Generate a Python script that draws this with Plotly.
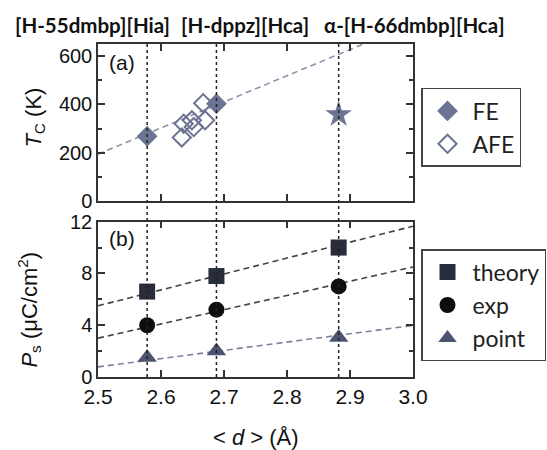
import plotly.graph_objects as go

# ---------- data ----------
d_fe = [2.578, 2.688]
tc_fe = [268, 403]
d_star = [2.882]
tc_star = [358]
d_afe = [2.633, 2.636, 2.649, 2.652, 2.670, 2.667]
tc_afe = [263, 320, 334, 306, 334, 405]
tc_fit_d = [2.5, 3.0]
tc_fit = [194, 735]

d_ps = [2.578, 2.688, 2.882]
ps_theory = [6.6, 7.8, 10.0]
ps_exp = [4.0, 5.2, 7.0]
ps_point = [1.5, 2.0, 3.05]
fit_d = [2.5, 3.0]
theory_fit = [5.5, 11.65]
exp_fit = [3.0, 8.5]
point_fit = [0.78, 3.98]

compound_d = [2.578, 2.688, 2.882]
compound_labels = ["[H-55dmbp][Hia]", "[H-dppz][Hca]", "α-[H-66dmbp][Hca]"]

x_ticks = [2.5, 2.6, 2.7, 2.8, 2.9, 3.0]
x_ticklabels = ["2.5", "2.6", "2.7", "2.8", "2.9", "3.0"]

# ---------- styles ----------
SLATE = "#6b7492"
FRAME = "#333333"
TICKFONT = dict(family="Liberation Sans, Arial", size=20, color="#111")
LEGFONT = dict(family="Lato", size=23, color="#222")

fig = go.Figure()

# top panel (x2, y2)
fig.add_trace(go.Scatter(x=tc_fit_d, y=tc_fit, mode="lines", xaxis="x2", yaxis="y2",
                         line=dict(color="#8c93ab", width=1.6, dash="6px,4px"),
                         showlegend=False, hoverinfo="skip"))
fig.add_trace(go.Scatter(x=d_afe, y=tc_afe, mode="markers", xaxis="x2", yaxis="y2", name="AFE",
                         marker=dict(symbol="diamond-open", size=14, color=SLATE,
                                     line=dict(width=2, color=SLATE)),
                         legend="legend", legendrank=2))
fig.add_trace(go.Scatter(x=d_fe, y=tc_fe, mode="markers", xaxis="x2", yaxis="y2", name="FE",
                         marker=dict(symbol="diamond", size=16, color=SLATE),
                         legend="legend", legendrank=1))
fig.add_trace(go.Scatter(x=d_star, y=tc_star, mode="markers", xaxis="x2", yaxis="y2",
                         marker=dict(symbol="star", size=20, color=SLATE),
                         showlegend=False))

# bottom panel (x, y)
for yy, col in [(theory_fit, "#444444"), (exp_fit, "#444444"), (point_fit, "#7c8299")]:
    fig.add_trace(go.Scatter(x=fit_d, y=yy, mode="lines",
                             line=dict(color=col, width=1.6, dash="6px,4px"),
                             showlegend=False, hoverinfo="skip"))
fig.add_trace(go.Scatter(x=d_ps, y=ps_theory, mode="markers", name="theory",
                         marker=dict(symbol="square", size=16, color="#282c3b"),
                         legend="legend2"))
fig.add_trace(go.Scatter(x=d_ps, y=ps_exp, mode="markers", name="exp",
                         marker=dict(symbol="circle", size=16, color="#0e0e0e"),
                         legend="legend2"))
fig.add_trace(go.Scatter(x=d_ps, y=ps_point, mode="markers", name="point",
                         marker=dict(symbol="triangle-up", size=17, color="#4d5470"),
                         legend="legend2"))

axis_common = dict(showline=True, linecolor=FRAME, linewidth=1.5, mirror="ticks",
                   ticks="inside", tickcolor=FRAME, tickwidth=1.5, ticklen=7,
                   showgrid=False, zeroline=False, tickfont=TICKFONT)

fig.update_layout(
    width=547, height=450,
    margin=dict(l=97.5, r=134, t=44, b=73, autoexpand=False),
    plot_bgcolor="white", paper_bgcolor="white",
    xaxis=dict(range=[2.5, 3.0], tickvals=x_ticks, ticktext=x_ticklabels,
               **{**axis_common, "tickfont": dict(family="Liberation Sans, Arial", size=21, color="#111")}),
    yaxis=dict(domain=[0, 0.4664], range=[0, 12], tickvals=[0, 4, 8, 12],
               minor=dict(tickvals=[2, 6, 10], ticks="inside", ticklen=4, tickcolor=FRAME, tickwidth=1.5),
               **axis_common),
    xaxis2=dict(range=[2.5, 3.0], tickvals=x_ticks, showticklabels=False, anchor="y2",
                matches="x", **axis_common),
    yaxis2=dict(domain=[0.5285, 1.0], range=[0, 650], tickvals=[0, 200, 400, 600], anchor="x2",
                minor=dict(tickvals=[100, 300, 500], ticks="inside", ticklen=4, tickcolor=FRAME, tickwidth=1.5),
                **axis_common),
    legend=dict(x=1.0254, y=0.868, xanchor="left", yanchor="top", font=LEGFONT,
                bordercolor="#444", borderwidth=1.5, bgcolor="white", itemwidth=40,
                traceorder="normal"),
    legend2=dict(x=1.0254, y=0.384, xanchor="left", yanchor="top", font=LEGFONT,
                 bordercolor="#444", borderwidth=1.5, bgcolor="white", itemwidth=40),
)

# dotted vertical lines through both panels
for dv in compound_d:
    fig.add_shape(type="line", xref="x", yref="paper", x0=dv, x1=dv, y0=0, y1=1,
                  line=dict(color="#222", width=1.5, dash="dot"), layer="above")

# compound labels at top
label_x_px = [12, 179, 322]
for lab, px in zip(compound_labels, label_x_px):
    fig.add_annotation(text=f"<b>{lab}</b>", xref="paper", yref="paper",
                       x=(px - 97.5) / 315.5, y=1.057, xanchor="left", yanchor="middle",
                       showarrow=False, font=dict(family="Lato", size=20.5, color="#111"))

# panel labels
PLFONT = dict(family="Liberation Sans, Arial", size=21, color="#111")
fig.add_annotation(text="(a)", xref="paper", yref="paper", x=(122 - 97.5) / 315.5,
                   y=(377 - 62) / 333, xanchor="center", yanchor="middle",
                   showarrow=False, font=PLFONT)
fig.add_annotation(text="(b)", xref="paper", yref="paper", x=(122 - 97.5) / 315.5,
                   y=(377 - 238) / 333, xanchor="center", yanchor="middle",
                   showarrow=False, font=PLFONT)

# axis titles
TITLEFONT = dict(family="Liberation Sans, Arial", size=22, color="#111")
fig.add_annotation(text="<i>T</i><sub>C</sub> (K)", xref="paper", yref="paper",
                   x=(34 - 97.5) / 315.5, y=(377 - 118) / 333, textangle=-90,
                   xanchor="center", yanchor="middle", showarrow=False, font=TITLEFONT)
fig.add_annotation(text="<i>P</i><sub>s</sub> (μC/cm<sup>2</sup>)", xref="paper", yref="paper",
                   x=(28 - 97.5) / 315.5, y=(377 - 310) / 333, textangle=-90,
                   xanchor="center", yanchor="middle", showarrow=False, font=TITLEFONT)
fig.add_annotation(text="< <i>d</i> > (Å)", xref="paper", yref="paper",
                   x=0.5, y=(377 - 437) / 333, xanchor="center", yanchor="middle",
                   showarrow=False, font=TITLEFONT)

fig.write_html("out.html")
